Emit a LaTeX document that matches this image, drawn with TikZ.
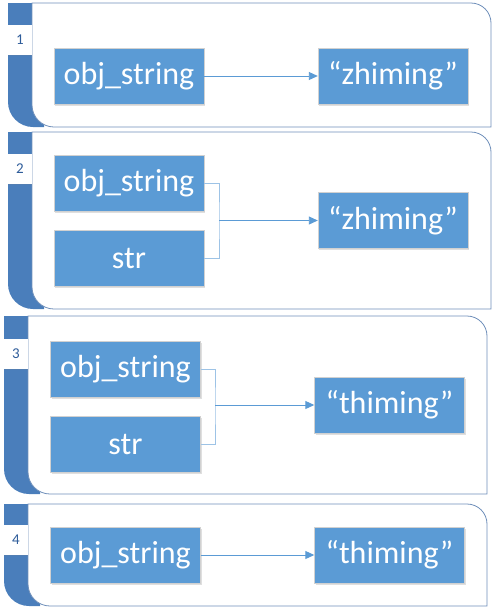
\documentclass[tikz,border=0pt]{standalone}
\usepackage{fontspec}
\setmainfont{Carlito}
\usepackage{tikz}
\usetikzlibrary{arrows.meta,shadows}
\definecolor{boxblue}{HTML}{5B9BD5}
\definecolor{tabblue}{HTML}{4A7EBB}
\definecolor{cardline}{HTML}{6F8FBA}
\definecolor{linkline}{HTML}{9DC3E6}
\definecolor{numblue}{HTML}{2E5C9A}

\begin{document}
\begin{tikzpicture}[x=1pt,y=-1pt,every node/.style={font=\fontsize{32}{38}\selectfont}]
    \tikzstyle{var}=[draw=black!18,fill=boxblue,text=white,minimum width=150pt,minimum height=56pt,
                     inner sep=0pt,drop shadow={shadow xshift=1pt,shadow yshift=-1.5pt,opacity=0.25}];
    \tikzstyle{tab}=[fill=tabblue];
    \tikzstyle{card}=[draw=cardline,fill=white,line width=0.8pt];
    \tikzstyle{num}=[fill=white,minimum width=24pt,minimum height=30pt,inner sep=0pt,text=numblue,
                     font=\fontsize{15}{18}\selectfont,drop shadow={shadow xshift=0pt,shadow yshift=-1pt,opacity=0.15}];
    \tikzstyle{ref}=[-{Triangle[length=9pt,width=8pt]},draw=boxblue,fill=boxblue,line width=0.9pt];
    \tikzstyle{link}=[draw=linkline,line width=1pt];
    \useasboundingbox (0,0) rectangle (497,614);

    % frames
    \fill[tab] (8,3) -- (44,3) -- (44,127) -- (33,127) arc (90:180:25) -- cycle;
    \draw[card] (32,3) -- (471,3) arc (-90:0:20) -- (491,127) -- (54,127) arc (90:180:22) -- cycle;
    \node[num] (n1) at (20,40) {1};

    \fill[tab] (8,132) -- (44,132) -- (44,309) -- (33,309) arc (90:180:25) -- cycle;
    \draw[card] (32,132) -- (471,132) arc (-90:0:20) -- (491,309) -- (54,309) arc (90:180:22) -- cycle;
    \node[num] (n2) at (20,168.5) {2};

    \fill[tab] (4,316) -- (40,316) -- (40,494) -- (29,494) arc (90:180:25) -- cycle;
    \draw[card] (28,316) -- (467,316) arc (-90:0:20) -- (487,494) -- (50,494) arc (90:180:22) -- cycle;
    \node[num] (n3) at (16,353.5) {3};

    \fill[tab] (4,504) -- (40,504) -- (40,606) -- (29,606) arc (90:180:25) -- cycle;
    \draw[card] (28,504) -- (467,504) arc (-90:0:20) -- (487,606) -- (50,606) arc (90:180:22) -- cycle;
    \node[num] (n4) at (16,539.5) {4};

    % 1: obj_string -> "zhiming"
    \node[var] (o1) at (129,76) {obj\_string};
    \node[var] (z1) at (393,76) {“zhiming”};
    \draw[ref] (o1) -- (z1);

    % 2: str shares "zhiming"
    \node[var] (o2) at (129,183) {obj\_string};
    \node[var] (s2) at (129,258.5) {str};
    \node[var] (z2) at (393,220.5) {“zhiming”};
    \coordinate (j2) at (219,220.5);
    \draw[link] (o2.east) -| (j2) |- (s2.east);
    \draw[ref] (j2) -- (z2);

    % 3: value changed to "thiming"
    \node[var] (o3) at (125.5,369) {obj\_string};
    \node[var] (s3) at (125.5,444) {str};
    \node[var] (t3) at (389.5,405) {“thiming”};
    \coordinate (j3) at (215,405);
    \draw[link] (o3.east) -| (j3) |- (s3.east);
    \draw[ref] (j3) -- (t3);

    % 4: only obj_string left
    \node[var] (o4) at (125.5,555) {obj\_string};
    \node[var] (t4) at (389.5,555) {“thiming”};
    \draw[ref] (o4) -- (t4);
\end{tikzpicture}
\end{document}
